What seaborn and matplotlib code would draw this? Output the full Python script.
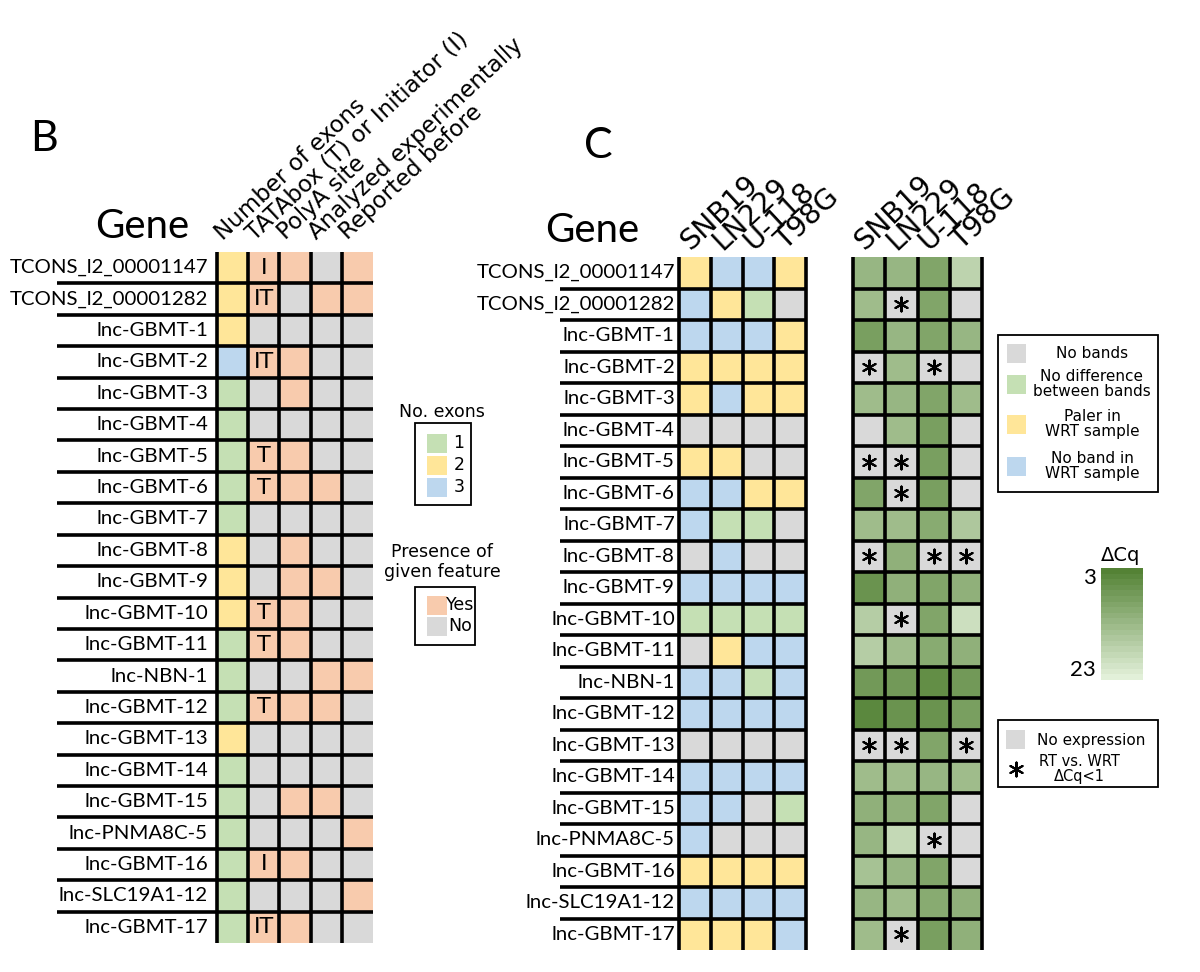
import numpy as np
import pandas as pd
import matplotlib
matplotlib.use("Agg")
import matplotlib.pyplot as plt
from matplotlib.colors import ListedColormap, LinearSegmentedColormap
from matplotlib.patches import Rectangle
import seaborn as sns

# ---------------- data ----------------
genes = ["TCONS_l2_00001147", "TCONS_l2_00001282", "lnc-GBMT-1", "lnc-GBMT-2", "lnc-GBMT-3",
         "lnc-GBMT-4", "lnc-GBMT-5", "lnc-GBMT-6", "lnc-GBMT-7", "lnc-GBMT-8", "lnc-GBMT-9",
         "lnc-GBMT-10", "lnc-GBMT-11", "lnc-NBN-1", "lnc-GBMT-12", "lnc-GBMT-13", "lnc-GBMT-14",
         "lnc-GBMT-15", "lnc-PNMA8C-5", "lnc-GBMT-16", "lnc-SLC19A1-12", "lnc-GBMT-17"]

feature_labels = ["Number of exons", "TATAbox (T) or Initiator (I)", "PolyA site",
                  "Analyzed experimentally", "Reported before"]
n_exons = [2, 2, 2, 3, 1, 1, 1, 1, 1, 2, 2, 2, 1, 1, 1, 2, 1, 1, 1, 1, 1, 1]
tata_init = ["I", "IT", "", "IT", "", "", "T", "T", "", "", "", "T", "T", "", "T", "", "", "", "", "I", "", "IT"]
polya = [1, 0, 0, 1, 1, 0, 1, 1, 0, 1, 1, 1, 1, 0, 1, 0, 0, 1, 0, 1, 0, 1]
analyzed = [0, 1, 0, 0, 0, 0, 0, 1, 0, 0, 1, 0, 0, 1, 1, 0, 0, 1, 0, 0, 0, 0]
reported = [1, 1, 0, 0, 0, 0, 0, 0, 0, 0, 0, 0, 0, 1, 0, 0, 0, 0, 1, 0, 1, 0]

cell_lines = ["SNB19", "LN229", "U-118", "T98G"]
# band categories: 0 no bands, 1 no difference, 2 paler in WRT, 3 no band in WRT
band_SNB19 = [2, 3, 3, 2, 2, 0, 2, 3, 3, 0, 3, 1, 0, 3, 3, 0, 3, 3, 3, 2, 3, 2]
band_LN229 = [3, 2, 3, 2, 3, 0, 2, 3, 1, 3, 3, 1, 2, 3, 3, 0, 3, 3, 0, 2, 3, 2]
band_U118 = [3, 1, 3, 2, 2, 0, 0, 2, 1, 0, 3, 1, 3, 1, 3, 0, 3, 0, 0, 2, 3, 2]
band_T98G = [2, 0, 2, 2, 2, 0, 0, 2, 0, 0, 3, 1, 3, 3, 3, 0, 3, 1, 0, 2, 3, 3]

nan = np.nan
dcq_SNB19 = [12, 13, 8, nan, 13, nan, nan, 9, 13, nan, 6, 16, 16, 7, 4, nan, 13, 11, 12, 14, 12, 13]
dcq_LN229 = [12, nan, 12, 13, 12, 13, nan, nan, 13, 11, 11, nan, 13, 7, 6, nan, 13, 11, 18, 12, 13, nan]
dcq_U118 = [9, 9, 9, nan, 9, 8, 8, 8, 10, nan, 9, 9, 10, 5, 6, 9, 12, 9, nan, 9, 10, 8]
dcq_T98G = [17, nan, 12, nan, 13, nan, nan, nan, 15, nan, 11, 19, 11, 7, 8, nan, 13, nan, nan, nan, 11, 11]

star_SNB19 = [3, 6, 9, 15]
star_LN229 = [1, 6, 7, 11, 15, 21]
star_U118 = [3, 9, 18]
star_T98G = [9, 15]

# ---------------- style ----------------
sns.set_style("white")
plt.rcParams["font.family"] = ["DejaVu Sans"]
plt.rcParams["text.color"] = "black"
plt.rcParams["xtick.color"] = "black"
plt.rcParams["ytick.color"] = "black"
plt.rcParams["axes.labelcolor"] = "black"

GRAY = "#D9D9D9"
PEACH = "#F8CBAD"
GREEN = "#C5E0B4"
YELLOW = "#FFE699"
BLUE = "#BDD7EE"
DARKG = "#548235"
LIGHTG = "#E2F0D9"
LW = 2.6

W, H = 1200, 972
fig = plt.figure(figsize=(W / 100, H / 100), dpi=100)


def rect(x0, y0, x1, y1):
    return [x0 / W, 1 - y1 / H, (x1 - x0) / W, (y1 - y0) / H]


# ---------------- panel B ----------------
codes_B = pd.DataFrame({
    feature_labels[0]: np.array(n_exons) + 1,
    feature_labels[1]: [1 if t else 0 for t in tata_init],
    feature_labels[2]: polya,
    feature_labels[3]: analyzed,
    feature_labels[4]: reported,
}, index=genes)
annot_B = np.array([["", t, "", "", ""] for t in tata_init])
cmap_B = ListedColormap([GRAY, PEACH, GREEN, YELLOW, BLUE])

axB = fig.add_axes(rect(217, 252, 373, 943))
sns.heatmap(codes_B, ax=axB, cmap=cmap_B, vmin=-0.5, vmax=4.5, cbar=False,
            annot=annot_B, fmt="", annot_kws=dict(fontsize=16, color="black"),
            xticklabels=False, yticklabels=genes)
nB = len(genes)
axB.hlines(np.arange(1, nB), -5.13, 5, colors="black", lw=LW, clip_on=False)
axB.vlines(np.arange(0, 5), 0, nB, colors="black", lw=LW, clip_on=False)
axB.tick_params(axis="y", length=0, pad=6.5, labelcolor="black")
for lbl in axB.get_yticklabels():
    lbl.set_fontfamily("Lato")
    lbl.set_fontsize(14.7)
    lbl.set_rotation(0)
for j, lab in enumerate(feature_labels):
    axB.text(j + 0.2, -0.36, lab, rotation=43, rotation_mode="anchor",
             ha="left", va="baseline", fontsize=16.5)

# ---------------- panel C left ----------------
band_df = pd.DataFrame(dict(zip(cell_lines, [band_SNB19, band_LN229, band_U118, band_T98G])), index=genes)
cmap_band = ListedColormap([GRAY, GREEN, YELLOW, BLUE])
axC1 = fig.add_axes(rect(679, 257, 806, 950))
sns.heatmap(band_df, ax=axC1, cmap=cmap_band, vmin=-0.5, vmax=3.5, cbar=False,
            xticklabels=False, yticklabels=genes)
axC1.hlines(np.arange(1, nB), -3.75, 4, colors="black", lw=LW, clip_on=False)
axC1.vlines(np.arange(0, 5), 0, nB, colors="black", lw=LW, clip_on=False)
axC1.tick_params(axis="y", length=0, pad=3, labelcolor="black")
for lbl in axC1.get_yticklabels():
    lbl.set_fontfamily("Lato")
    lbl.set_fontsize(14.7)
    lbl.set_rotation(0)
for j, lab in enumerate(cell_lines):
    axC1.text(j + 0.35, -0.2, lab, rotation=43, rotation_mode="anchor",
              ha="left", va="baseline", fontsize=20.5)

# ---------------- panel C right ----------------
dcq_df = pd.DataFrame(dict(zip(cell_lines, [dcq_SNB19, dcq_LN229, dcq_U118, dcq_T98G])), index=genes)
cmap_dcq = LinearSegmentedColormap.from_list("dcq", [DARKG, LIGHTG], N=20)
axC2 = fig.add_axes(rect(853, 257, 982, 950))
sns.heatmap(dcq_df, ax=axC2, cmap=cmap_dcq, vmin=3, vmax=23, cbar=False,
            xticklabels=False, yticklabels=False)
mesh = axC2.collections[0]
axC2.set_facecolor(GRAY)
axC2.hlines(np.arange(1, nB), 0, 4, colors="black", lw=LW, clip_on=False)
axC2.vlines(np.arange(0, 5), 0, nB, colors="black", lw=LW, clip_on=False)
for j, stars in enumerate([star_SNB19, star_LN229, star_U118, star_T98G]):
    rows = np.array(stars)
    axC2.scatter(np.full(len(rows), j + 0.5), rows + 0.5, marker=(6, 2, 0), s=100,
                 c="black", linewidths=1.5, zorder=5)
for j, lab in enumerate(cell_lines):
    axC2.text(j + 0.35, -0.2, lab, rotation=43, rotation_mode="anchor",
              ha="left", va="baseline", fontsize=20.5)

# colorbar
cax = fig.add_axes(rect(1101, 568, 1143, 680))
cb = fig.colorbar(mesh, cax=cax, ticks=[3, 23])
cax.invert_yaxis()
cb.outline.set_visible(False)
cax.yaxis.set_ticks_position("left")
cax.tick_params(length=0, pad=4, labelcolor="black")
tl = cax.get_yticklabels()
for lbl in tl:
    lbl.set_fontfamily("Lato")
    lbl.set_fontsize(16)
tl[0].set_va("top")
tl[1].set_va("bottom")

# ---------------- overlay: titles and legends ----------------
ov = fig.add_axes([0, 0, 1, 1], zorder=10)
ov.set_xlim(0, W)
ov.set_ylim(H, 0)
ov.axis("off")

ov.text(30, 151, "B", fontsize=31, family="Lato", va="baseline")
ov.text(584, 158, "C", fontsize=31, family="Lato", va="baseline")
ov.text(95, 238, "Gene", fontsize=29, family="Lato", va="baseline")
ov.text(545, 242, "Gene", fontsize=29, family="Lato", va="baseline")
ov.text(1121, 561, "ΔCq", fontsize=14, ha="center", va="baseline")

# legend B: number of exons
ov.text(442, 412, "No. exons", fontsize=12.5, ha="center", va="center")
ov.add_patch(Rectangle((415, 423), 56, 82, fill=False, lw=1.3, edgecolor="black"))
for yc, colr, lab in [(443, GREEN, "1"), (465, YELLOW, "2"), (487, BLUE, "3")]:
    ov.add_patch(Rectangle((427, yc - 9.5), 20, 19, color=colr, lw=0))
    ov.text(459, yc, lab, fontsize=12.5, ha="center", va="center")

# legend B: presence
ov.text(442, 562, "Presence of\ngiven feature", fontsize=12.5, ha="center", va="center",
        linespacing=1.15)
ov.add_patch(Rectangle((415, 587), 60, 58, fill=False, lw=1.3, edgecolor="black"))
for yc, colr, lab in [(605, PEACH, "Yes"), (626, GRAY, "No")]:
    ov.add_patch(Rectangle((427, yc - 9.5), 20, 19, color=colr, lw=0))
    ov.text(460, yc, lab, fontsize=12.5, ha="center", va="center")

# legend C: bands
ov.add_patch(Rectangle((998, 335), 160, 157, fill=False, lw=1.3, edgecolor="black"))
for yc, colr, lab in [(353, GRAY, "No bands"), (384, GREEN, "No difference\nbetween bands"),
                      (424, YELLOW, "Paler in\nWRT sample"), (466, BLUE, "No band in\nWRT sample")]:
    ov.add_patch(Rectangle((1007, yc - 9.5), 19, 19, color=colr, lw=0))
    ov.text(1092, yc, lab, fontsize=11, ha="center", va="center", linespacing=1.05)

# legend C: expression
ov.add_patch(Rectangle((998, 720), 160, 67, fill=False, lw=1.3, edgecolor="black"))
ov.add_patch(Rectangle((1006, 730), 19, 19, color=GRAY, lw=0))
ov.text(1091, 740, "No expression", fontsize=11, ha="center", va="center")
ov.scatter([1016], [769], marker=(6, 2, 0), s=100, c="black", linewidths=1.5)
ov.text(1079, 769, "RT vs. WRT\nΔCq<1", fontsize=10.5, ha="center", va="center", linespacing=0.95)

fig.savefig("out.png", dpi=100)
